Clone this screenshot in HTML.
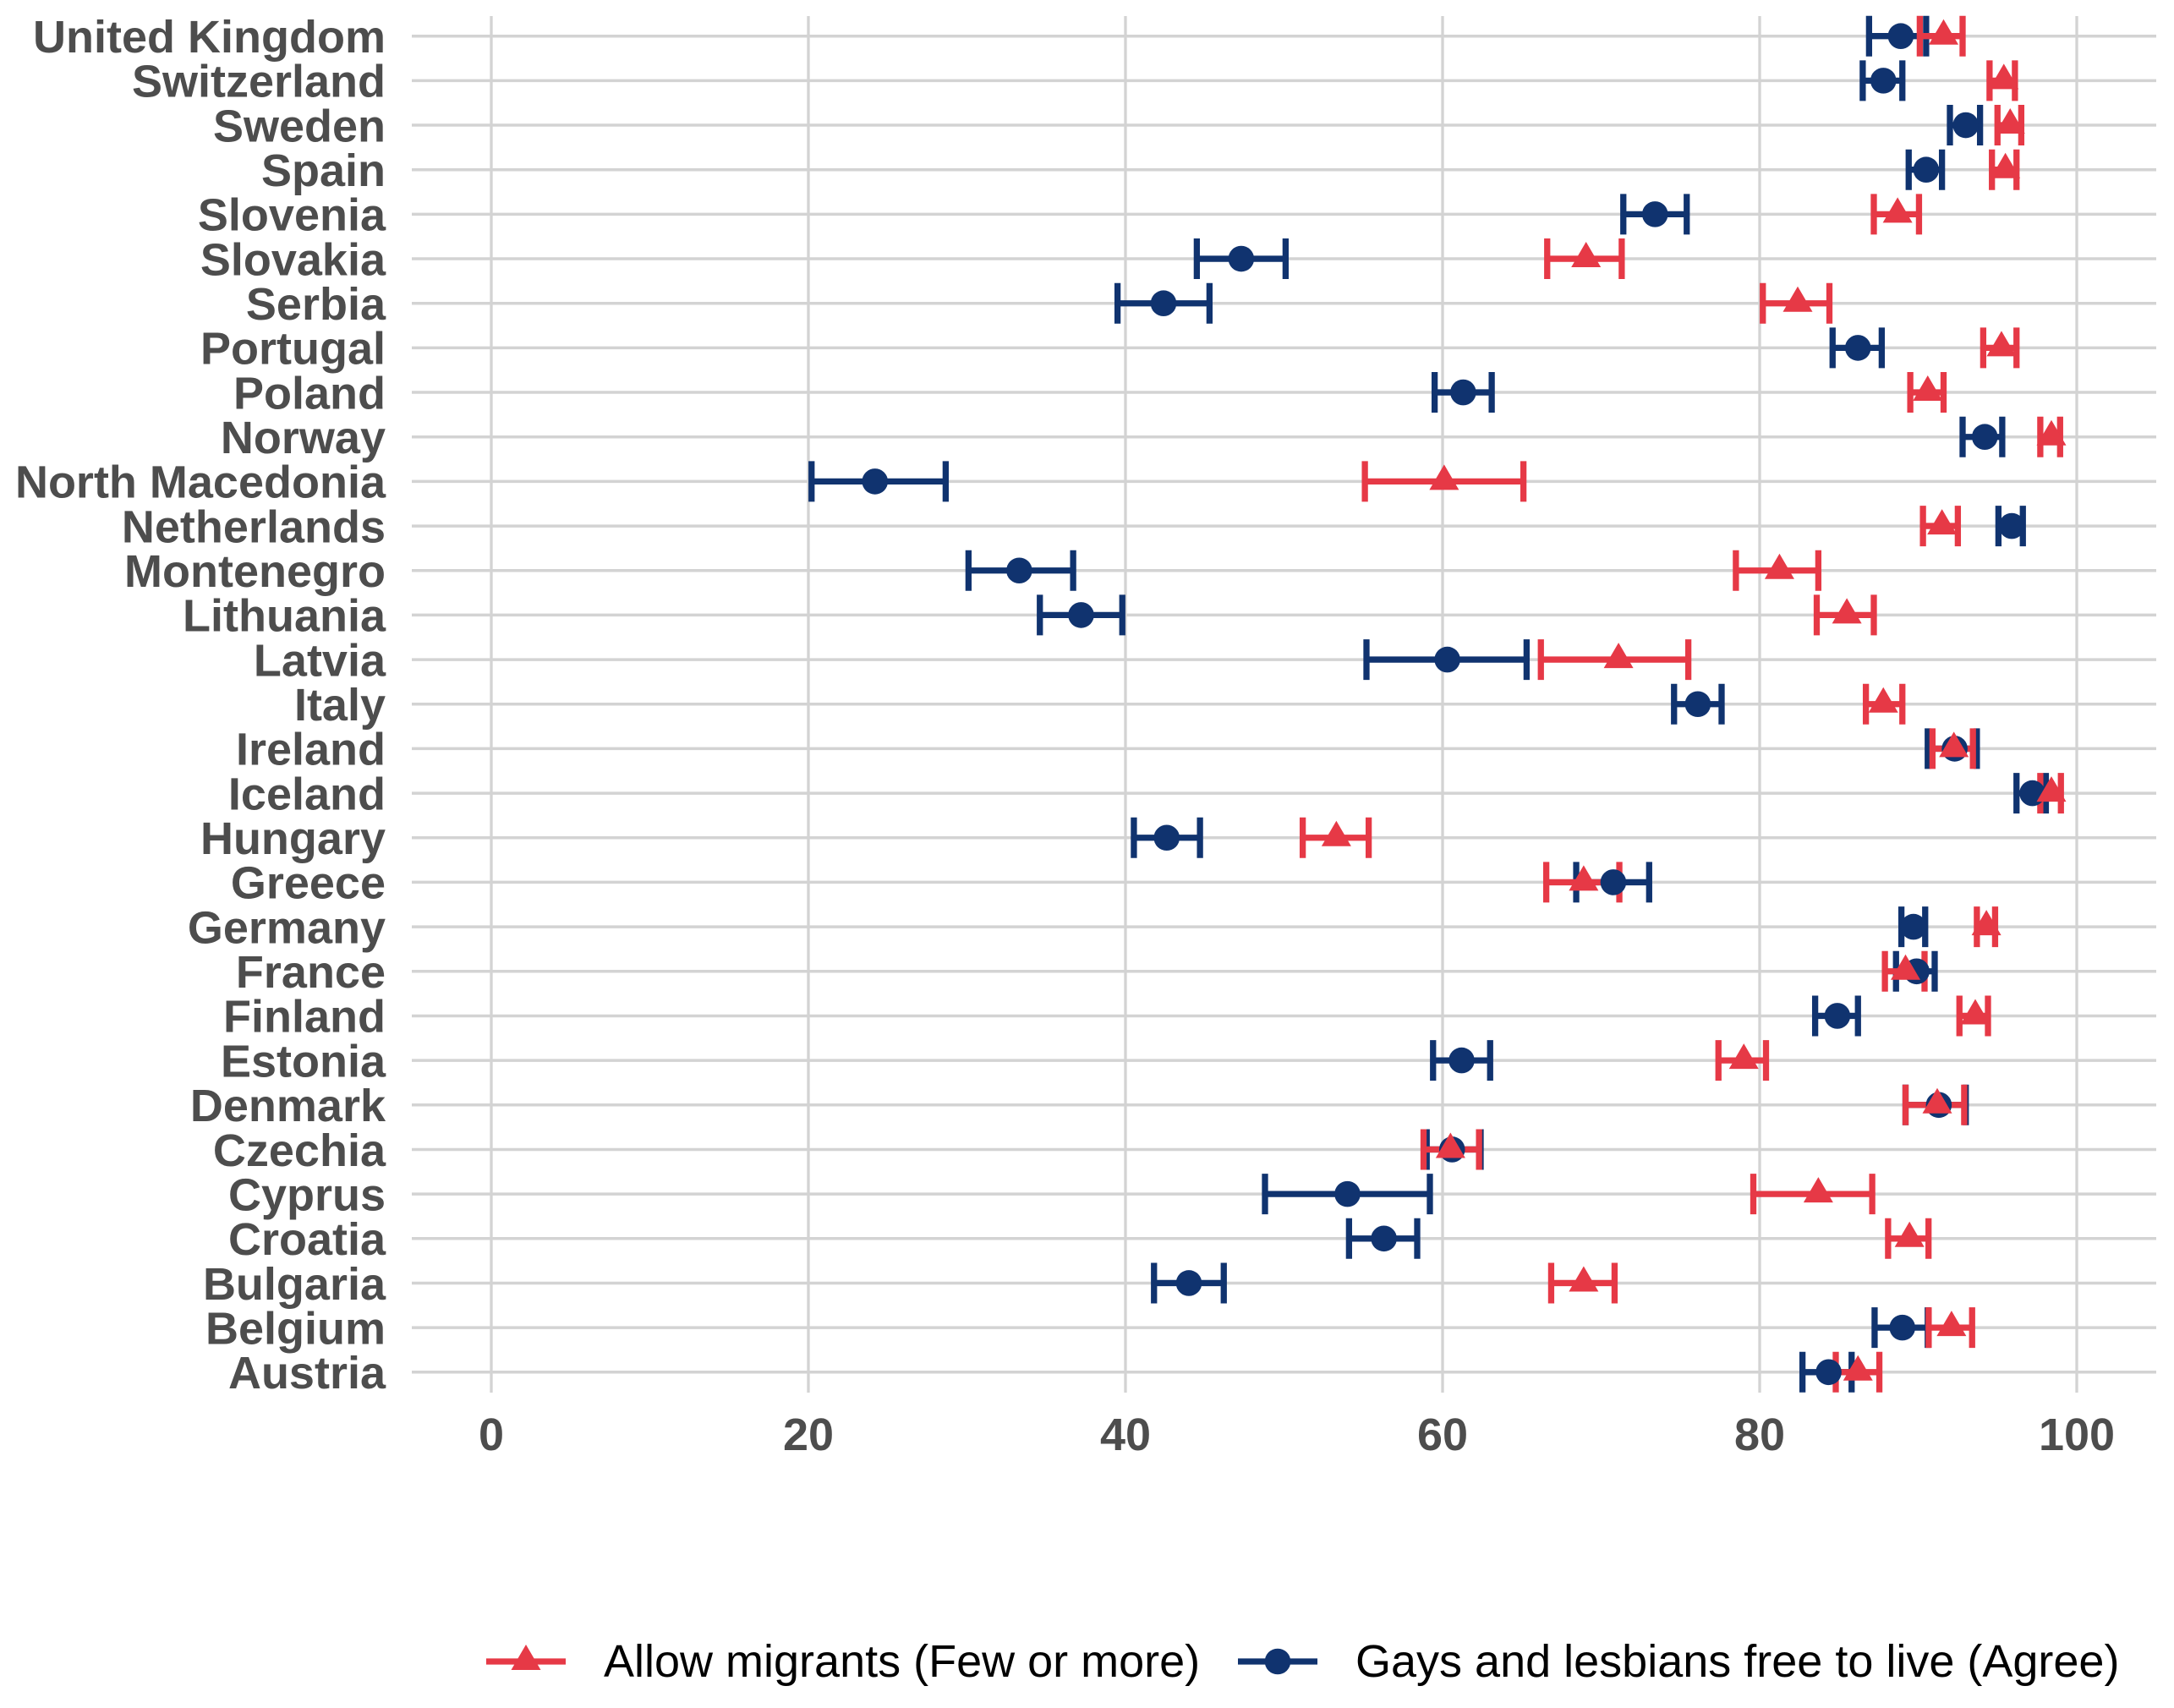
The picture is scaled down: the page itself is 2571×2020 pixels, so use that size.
<!DOCTYPE html>
<html lang="en">
<head>
<meta charset="utf-8">
<title>Attitudes by country</title>
<style>
html,body{margin:0;padding:0;background:#fff;width:2571px;height:2020px;overflow:hidden}
svg{display:block}
text{font-family:"Liberation Sans",Arial,sans-serif}
.tick{font-size:54px;font-weight:700;fill:#4d4d4d}
.legend-text{font-size:54px;fill:#000}
</style>
</head>
<body>
<svg id="chart" xmlns="http://www.w3.org/2000/svg" width="2571" height="2020" viewBox="0 0 2571 2020">
  <rect x="0" y="0" width="2571" height="2020" fill="#ffffff"/>
  <g id="grid"></g>
  <g id="y-axis"></g>
  <g id="x-axis"></g>
  <g id="gays-bars"></g>
  <g id="migrants-bars"></g>
  <g id="gays-points"></g>
  <g id="migrants-points"></g>
  <g>
    <g>
      <line x1="575" x2="669" y1="1965" y2="1965" stroke="#e63946" stroke-width="7.3"/>
      <polygon points="622,1945 639.5,1975 604.5,1975" fill="#e63946"/>
      <text class="legend-text" x="714" y="1983">Allow migrants (Few or more)</text>
    </g>
    <g>
      <line x1="1464" x2="1558" y1="1965" y2="1965" stroke="#10336f" stroke-width="7.3"/>
      <circle cx="1511" cy="1965" r="15.3" fill="#10336f"/>
      <text class="legend-text" x="1603" y="1983">Gays and lesbians free to live (Agree)</text>
    </g>
  </g>
</svg>
<script>
const countries = ["United Kingdom","Switzerland","Sweden","Spain","Slovenia","Slovakia","Serbia","Portugal","Poland","Norway","North Macedonia","Netherlands","Montenegro","Lithuania","Latvia","Italy","Ireland","Iceland","Hungary","Greece","Germany","France","Finland","Estonia","Denmark","Czechia","Cyprus","Croatia","Bulgaria","Belgium","Austria"];
const migrantsMean = [91.6,95.4,95.8,95.5,88.7,69.05,82.4,95.25,90.6,98.4,60.1,91.5,81.25,85.5,71.1,87.8,92.25,98.4,53.3,68.9,94.3,89.2,93.6,79.0,91.2,60.5,83.7,89.45,68.9,92.1,86.2];
const migrantsLow = [90.1,94.5,95.0,94.65,87.2,66.6,80.2,94.1,89.5,97.7,55.1,90.3,78.5,83.6,66.2,86.7,90.9,97.7,51.18,66.54,93.7,87.9,92.6,77.4,89.2,58.8,79.6,88.1,66.85,90.66,84.8];
const migrantsHigh = [92.8,96.1,96.5,96.2,90.05,71.3,84.4,96.2,91.6,98.95,65.1,92.5,83.7,87.2,75.5,89.0,93.45,99.0,55.34,71.15,94.85,90.4,94.4,80.4,92.9,62.3,87.1,90.65,70.85,93.4,87.55];
const gaysMean = [88.9,87.8,93.0,90.5,73.4,47.3,42.4,86.2,61.3,94.2,24.2,95.9,33.3,37.2,60.3,76.1,92.3,97.2,42.6,70.77,89.7,89.9,84.9,61.2,91.3,60.6,54.0,56.3,44.0,89.0,84.35];
const gaysLow = [86.9,86.5,92.0,89.4,71.4,44.5,39.5,84.6,59.5,92.8,20.2,95.06,30.1,34.6,55.2,74.6,90.6,96.2,40.53,68.43,88.94,88.6,83.5,59.4,89.2,59.0,48.8,54.1,41.8,87.25,82.7];
const gaysHigh = [90.5,89.0,93.9,91.5,75.4,50.1,45.3,87.7,63.1,95.3,28.66,96.6,36.7,39.8,65.3,77.6,93.7,98.05,44.7,73.03,90.44,91.04,86.2,63.0,93.0,62.4,59.2,58.4,46.2,90.6,85.8];
const xTicks = [0,20,40,60,80,100];

const NS = "http://www.w3.org/2000/svg";
const RED = "#e63946";
const NAVY = "#10336f";
const GRID = "#d3d3d3";
function xScale(v){ return 581 + v * 18.75; }
function yScale(i){ return 42.7 + i * 52.67; }
function make(tag, attrs, parent){
  const el = document.createElementNS(NS, tag);
  for (const k in attrs) el.setAttribute(k, attrs[k]);
  parent.appendChild(el);
  return el;
}
const grid = document.getElementById("grid");
const yAxis = document.getElementById("y-axis");
const xAxis = document.getElementById("x-axis");

xTicks.forEach(function(t){
  const line = make("line", {x1:xScale(t), x2:xScale(t), y1:19, y2:1647, stroke:GRID, "stroke-width":3.3}, grid);
  
  
  const label = make("text", {x:xScale(t), y:1715, "text-anchor":"middle", class:"tick"}, xAxis);
  label.textContent = String(t);
  
  
});

countries.forEach(function(name, i){
  const y = yScale(i);
  const line = make("line", {x1:487, x2:2550, y1:y, y2:y, stroke:GRID, "stroke-width":3.5}, grid);
  
  
  const label = make("text", {x:456, y:y + 19.3, "text-anchor":"end", class:"tick"}, yAxis);
  label.textContent = name;
  
  
});

function drawBar(parent, i, low, high, color){
  const y = yScale(i);
  const x1 = xScale(low), x2 = xScale(high);
  const d = "M" + x1 + " " + (y - 24) + "V" + (y + 24) + "M" + x2 + " " + (y - 24) + "V" + (y + 24) + "M" + x1 + " " + y + "H" + x2;
  return make("path", {d:d, fill:"none", stroke:color, "stroke-width":7.3}, parent);
}

const gaysBars = document.getElementById("gays-bars");
const migrantsBars = document.getElementById("migrants-bars");
const gaysPoints = document.getElementById("gays-points");
const migrantsPoints = document.getElementById("migrants-points");

countries.forEach(function(name, i){
  const bar = drawBar(gaysBars, i, gaysLow[i], gaysHigh[i], NAVY);
  
  
});
countries.forEach(function(name, i){
  const bar = drawBar(migrantsBars, i, migrantsLow[i], migrantsHigh[i], RED);
  
  
});
countries.forEach(function(name, i){
  const dot = make("circle", {cx:xScale(gaysMean[i]), cy:yScale(i), r:15.3, fill:NAVY}, gaysPoints);
  
  
});
countries.forEach(function(name, i){
  const cx = xScale(migrantsMean[i]), cy = yScale(i);
  const pts = cx + "," + (cy - 20) + " " + (cx + 17.5) + "," + (cy + 10) + " " + (cx - 17.5) + "," + (cy + 10);
  const tri = make("polygon", {points:pts, fill:RED}, migrantsPoints);
  
  
});
</script>
</body>
</html>
